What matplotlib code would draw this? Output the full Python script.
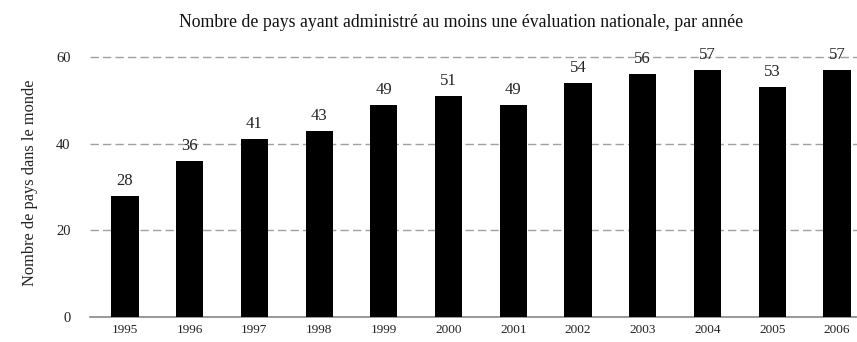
import matplotlib
matplotlib.use("Agg")
import matplotlib.pyplot as plt

years = ["1995", "1996", "1997", "1998", "1999", "2000",
         "2001", "2002", "2003", "2004", "2005", "2006"]
counts = [28, 36, 41, 43, 49, 51, 49, 54, 56, 57, 53, 57]
yticks = [0, 20, 40, 60]

title = "Nombre de pays ayant administré au moins une évaluation nationale, par année"
ylabel = "Nombre de pays dans le monde"

plt.rcParams["font.family"] = ["Liberation Serif", "DejaVu Serif"]

fig = plt.figure(figsize=(8.57, 3.42), dpi=100)
ax = fig.add_axes([90 / 857, 0.0731, 1 - 90 / 857, 0.7857])

x = list(range(len(years)))
ax.bar(x, counts, width=0.42, color="black", zorder=3)

for xi, v in zip(x, counts):
    ax.text(xi, v + 1.6, str(v), ha="center", va="bottom", fontsize=12, color="#222222")

ax.set_xlim(-0.54, 11.31)
ax.set_ylim(0, 62)
ax.set_yticks(yticks)
ax.set_yticklabels([str(t) for t in yticks], fontsize=10.5)
ax.set_xticks(x)
ax.set_xticklabels(years, fontsize=9.5)

for t in yticks[1:]:
    ax.axhline(t, color="#a0a0a0", linestyle=(0, (6, 3)), linewidth=1.0, zorder=1)

for side in ["top", "right", "left"]:
    ax.spines[side].set_visible(False)
ax.spines["bottom"].set_color("#888888")
ax.spines["bottom"].set_linewidth(1.2)
ax.tick_params(axis="both", length=0, colors="#222222")
ax.tick_params(axis="x", pad=5)
ax.tick_params(axis="y", pad=14)

ax.set_ylabel(ylabel, fontsize=11.8, color="#222222", labelpad=13)
fig.text(0.538, 0.935, title, ha="center", va="center", fontsize=12.8, color="#111111")

fig.savefig("out.png", dpi=100, facecolor="white")
